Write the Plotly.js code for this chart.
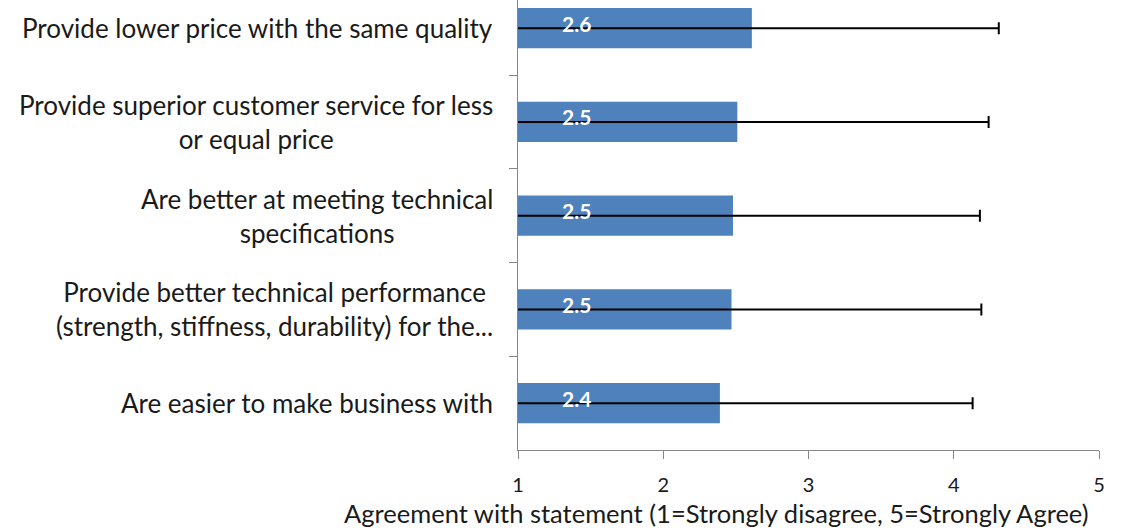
<!DOCTYPE html>
<html>
<head>
<meta charset="utf-8">
<script src="https://cdn.plot.ly/plotly-3.0.1.min.js"></script>
<style>
  html, body { margin: 0; padding: 0; background: #fff; }
  #chart { width: 1121px; height: 531px; }
</style>
</head>
<body>
<div id="chart"></div>
<script>
// Datos (de arriba hacia abajo)
const statements = [
    'Provide lower price with the same quality',
    'Provide superior customer service for less<br>or equal price',
    'Are better at meeting technical<br>specifications',
    'Provide better technical performance<br>(strength, stiffness, durability) for the...',
    'Are easier to make business with'
];
const meanScores = [2.61, 2.51, 2.48, 2.47, 2.39];
const stdDevs = [1.70, 1.73, 1.70, 1.72, 1.74];
const scoreLabels = ['2.6', '2.5', '2.5', '2.5', '2.4'];
const xTicks = [1, 2, 3, 4, 5];

const axisGray = '#868686';
const font = 'Lato, "Open Sans", sans-serif';
const catIds = statements.map((s, i) => 'c' + i);

const data = [{
    type: 'bar',
    orientation: 'h',
    y: catIds,
    x: meanScores,
    marker: { color: '#4f81bd', line: { width: 0 } },
    error_x: { type: 'data', array: stdDevs, visible: true, color: '#000', thickness: 2, width: 6 },
    hoverinfo: 'none'
}];

// Etiquetas de categoría (centradas por línea, bloque alineado a la derecha)
const annotations = statements.map((s, i) => ({
    xref: 'paper', yref: 'y', x: -0.04, y: catIds[i],
    xanchor: 'right', yanchor: 'middle', align: 'center',
    text: s, showarrow: false,
    font: { family: font, size: 26, color: '#1a1a1a' }
}));

// Etiquetas de valor dentro de las barras
scoreLabels.forEach((t, i) => annotations.push({
    xref: 'x', yref: 'y', x: 1.4, y: catIds[i], yshift: 5,
    text: t, showarrow: false,
    font: { family: font, size: 21, color: '#fff', weight: 'bold' }
}));

annotations.push({
    xref: 'paper', yref: 'paper', x: 0.341, y: 0, yshift: -63,
    xanchor: 'center', yanchor: 'middle',
    text: 'Agreement with statement (1=Strongly disagree, 5=Strongly Agree)',
    showarrow: false,
    font: { family: font, size: 25.5, color: '#1a1a1a' }
});

const layout = {
    width: 1121, height: 531,
    margin: { l: 518, r: 22, t: 0, b: 81 },
    paper_bgcolor: '#fff', plot_bgcolor: '#fff',
    showlegend: false,
    bargap: 0.57,
    font: { family: font, color: '#1a1a1a' },
    xaxis: {
        range: [1, 5], tickvals: xTicks, ticktext: xTicks.map(String),
        showgrid: false, zeroline: false,
        showline: true, linecolor: axisGray, linewidth: 1,
        ticks: 'outside', ticklen: 8, tickcolor: axisGray,
        ticklabelstandoff: 9,
        tickfont: { family: font, size: 20, color: '#1a1a1a' }
    },
    yaxis: {
        type: 'category', categoryorder: 'array', categoryarray: catIds,
        range: [4.5, -0.3],
        showgrid: false, zeroline: false,
        showline: true, linecolor: axisGray, linewidth: 1,
        ticks: 'outside', ticklen: 8, tickcolor: axisGray, tickson: 'boundaries',
        showticklabels: false
    },
    annotations: annotations
};

Plotly.newPlot('chart', data, layout, { displayModeBar: false, staticPlot: true });
</script>
</body>
</html>
